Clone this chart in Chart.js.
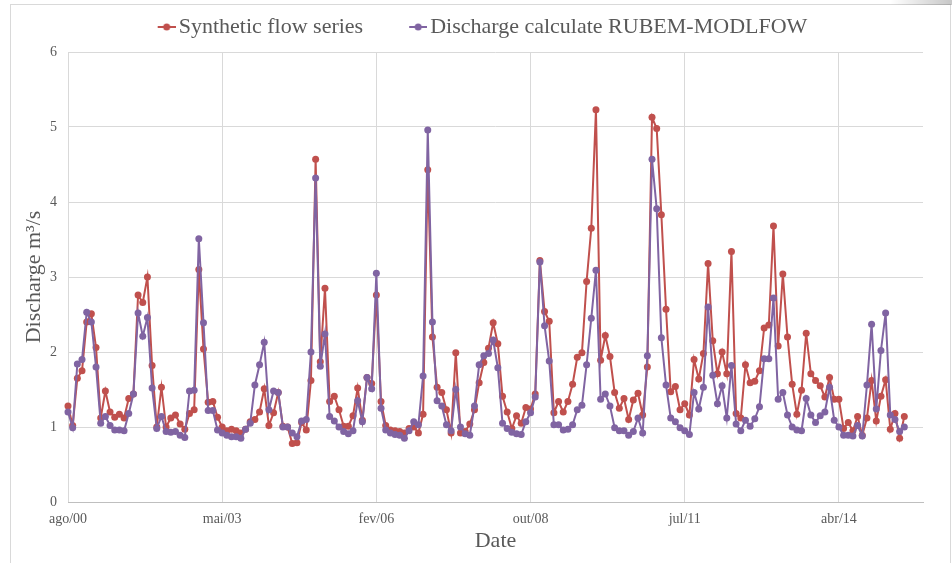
<!DOCTYPE html>
<html>
<head>
<meta charset="utf-8">
<title>Discharge</title>
<script src="https://cdn.jsdelivr.net/npm/chart.js@4.4.1/dist/chart.umd.min.js"></script>
<style>
    html, body { margin: 0; padding: 0; background: #fff; overflow: hidden; }
    #wrap { position: relative; width: 952px; height: 563px; }
    #frame { position: absolute; left: 10px; top: 4px; width: 939px; height: 700px; border: 1px solid #d9d9d9; }
    #shade { position: absolute; left: 890px; top: 0; width: 62px; height: 5px;
             background: linear-gradient(to right, rgba(0,0,0,0), rgba(0,0,0,0.22)); }
    #flowChart { position: absolute; left: 0; top: 0; }
</style>
</head>
<body>
<div id="wrap">
    <div id="frame"></div>
    <div id="shade"></div>
    <canvas id="flowChart" width="952" height="563"></canvas>
</div>
<script>
// monthly values, ago/00 .. jul/15
const syntheticFlow = [
    1.28, 1.02, 1.65, 1.75, 2.40, 2.51, 2.06, 1.12, 1.48, 1.20,
    1.13, 1.17, 1.12, 1.38, 1.44, 2.76, 2.66, 3.00, 1.82, 1.00,
    1.53, 1.00, 1.12, 1.16, 1.04, 0.97, 1.18, 1.23, 3.10, 2.04,
    1.33, 1.34, 1.13, 1.00, 0.95, 0.97, 0.95, 0.92, 0.97, 1.07,
    1.10, 1.20, 1.51, 1.02, 1.19, 1.46, 1.01, 1.00, 0.78, 0.79,
    1.06, 0.96, 1.62, 4.57, 1.87, 2.85, 1.34, 1.41, 1.23, 1.01,
    1.01, 1.15, 1.52, 1.09, 1.66, 1.58, 2.76, 1.34, 1.02, 0.96,
    0.95, 0.94, 0.92, 0.98, 1.00, 0.92, 1.17, 4.43, 2.20, 1.53,
    1.46, 1.23, 0.92, 1.99, 0.92, 0.94, 1.04, 1.23, 1.59, 1.86,
    2.05, 2.39, 2.11, 1.41, 1.20, 0.98, 1.15, 1.05, 1.26, 1.24,
    1.44, 3.22, 2.54, 2.41, 1.19, 1.34, 1.20, 1.34, 1.57, 1.93,
    1.99, 2.94, 3.65, 5.23, 1.89, 2.22, 1.94, 1.46, 1.25, 1.38,
    1.10, 1.36, 1.45, 1.16, 1.80, 5.13, 4.98, 3.83, 2.57, 1.47,
    1.54, 1.23, 1.31, 1.16, 1.90, 1.64, 1.98, 3.18, 2.15, 1.71,
    2.00, 1.71, 3.34, 1.18, 1.12, 1.83, 1.59, 1.61, 1.75, 2.32,
    2.36, 3.68, 2.08, 3.04, 2.20, 1.57, 1.17, 1.49, 2.25, 1.71,
    1.62, 1.55, 1.40, 1.66, 1.37, 1.37, 0.98, 1.06, 0.95, 1.14,
    0.89, 1.12, 1.62, 1.08, 1.41, 1.63, 0.97, 1.18, 0.85, 1.14
];
const rubemDischarge = [
    1.20, 0.99, 1.84, 1.90, 2.53, 2.40, 1.80, 1.05, 1.14, 1.02,
    0.96, 0.96, 0.95, 1.18, 1.44, 2.52, 2.21, 2.46, 1.52, 0.98,
    1.14, 0.94, 0.93, 0.94, 0.89, 0.86, 1.48, 1.49, 3.51, 2.39,
    1.22, 1.22, 0.96, 0.92, 0.89, 0.87, 0.87, 0.85, 0.97, 1.05,
    1.56, 1.83, 2.13, 1.23, 1.48, 1.46, 1.00, 1.00, 0.92, 0.87,
    1.08, 1.10, 2.00, 4.32, 1.81, 2.24, 1.14, 1.08, 1.00, 0.94,
    0.91, 0.95, 1.35, 1.07, 1.66, 1.51, 3.05, 1.25, 0.96, 0.92,
    0.90, 0.89, 0.85, 0.95, 1.07, 1.03, 1.68, 4.96, 2.40, 1.35,
    1.28, 1.03, 0.95, 1.50, 1.00, 0.91, 0.89, 1.28, 1.83, 1.95,
    1.98, 2.16, 1.79, 1.05, 0.98, 0.93, 0.91, 0.90, 1.07, 1.19,
    1.40, 3.20, 2.35, 1.88, 1.03, 1.03, 0.96, 0.97, 1.03, 1.23,
    1.29, 1.83, 2.45, 3.09, 1.37, 1.44, 1.28, 0.99, 0.95, 0.95,
    0.89, 0.94, 1.12, 0.92, 1.95, 4.57, 3.91, 2.19, 1.56, 1.12,
    1.07, 0.99, 0.95, 0.90, 1.46, 1.24, 1.53, 2.60, 1.69, 1.31,
    1.55, 1.12, 1.82, 1.04, 0.95, 1.09, 1.01, 1.11, 1.27, 1.91,
    1.91, 2.72, 1.37, 1.46, 1.16, 1.00, 0.96, 0.95, 1.38, 1.16,
    1.06, 1.15, 1.20, 1.53, 1.09, 1.00, 0.89, 0.89, 0.88, 1.02,
    0.88, 1.56, 2.37, 1.24, 2.02, 2.52, 1.16, 1.10, 0.94, 1.00
];
const xTickLabels = ['ago/00', 'mai/03', 'fev/06', 'out/08', 'jul/11', 'abr/14'];
const yTickLabels = ['0', '1', '2', '3', '4', '5', '6'];
const seriesNames = ['Synthetic flow series', 'Discharge calculate RUBEM-MODLFOW'];

const MONTHS_PER_TICK = 33;
const RED = '#c0504d';
const PURPLE = '#8064a2';
const SERIF = "'Liberation Serif', 'Times New Roman', serif";
const GREY_TEXT = '#595959';

// line + dot marker for the legend (right part of a wider transparent image)
function legendMarker(color) {
    const c = document.createElement('canvas');
    c.width = 68; c.height = 12;
    const g = c.getContext('2d');
    g.strokeStyle = color;
    g.lineWidth = 2;
    g.beginPath(); g.moveTo(50, 6); g.lineTo(68, 6); g.stroke();
    g.fillStyle = color;
    g.beginPath(); g.arc(59, 6, 3.5, 0, Math.PI * 2); g.fill();
    return c;
}
const markers = [legendMarker(RED), legendMarker(PURPLE)];

const toPoints = arr => arr.map((v, i) => ({ x: i, y: v }));

const lineStyle = color => ({
    borderColor: color,
    backgroundColor: color,
    borderWidth: 2,
    pointRadius: 3.5,
    pointBorderWidth: 0,
    pointBackgroundColor: color,
    tension: 0,
    fill: false,
    clip: false
});

new Chart(document.getElementById('flowChart'), {
    type: 'line',
    data: {
        datasets: [
            { label: seriesNames[0], data: toPoints(syntheticFlow), order: 1, ...lineStyle(RED) },
            { label: seriesNames[1], data: toPoints(rubemDischarge), order: 0, ...lineStyle(PURPLE) }
        ]
    },
    options: {
        responsive: false,
        animation: false,
        layout: { padding: { top: 12, right: 29, bottom: 0, left: 0 } },
        plugins: {
            legend: {
                position: 'top',
                labels: {
                    usePointStyle: true,
                    pointStyleWidth: 52,
                    padding: 4,
                    color: GREY_TEXT,
                    font: { family: SERIF, size: 22 },
                    sort: (a, b) => a.datasetIndex - b.datasetIndex,
                    generateLabels(chart) {
                        return Chart.defaults.plugins.legend.labels.generateLabels(chart)
                            .map(item => ({ ...item, pointStyle: markers[item.datasetIndex] }));
                    }
                }
            },
            tooltip: { enabled: false }
        },
        scales: {
            x: {
                type: 'linear',
                min: 0,
                max: 183,
                ticks: {
                    stepSize: MONTHS_PER_TICK,
                    includeBounds: false,
                    autoSkip: false,
                    maxRotation: 0,
                    padding: 9,
                    color: GREY_TEXT,
                    font: { family: SERIF, size: 14 },
                    callback: v => xTickLabels[Math.round(v / MONTHS_PER_TICK)] ?? ''
                },
                grid: { color: '#d9d9d9', drawTicks: false },
                border: { color: '#bfbfbf' },
                title: {
                    display: true, text: 'Date', color: GREY_TEXT,
                    font: { family: SERIF, size: 22 },
                    padding: { top: 0, bottom: 9 }
                },
                afterFit: s => { s.height = 61; }
            },
            y: {
                min: 0,
                max: 6,
                ticks: {
                    stepSize: 1,
                    padding: 11,
                    color: GREY_TEXT,
                    font: { family: SERIF, size: 14 },
                    callback: v => yTickLabels[v] ?? ''
                },
                grid: { color: '#d9d9d9', drawTicks: false },
                border: { display: false },
                title: {
                    display: true, text: 'Discharge m³/s', color: GREY_TEXT,
                    font: { family: SERIF, size: 22 },
                    padding: { top: 21, bottom: 0 }
                },
                afterFit: s => { s.width = 68; }
            }
        }
    },
    plugins: [{
        // a little more room between legend and plot
        id: 'legendGap',
        beforeInit(chart) {
            const fit = chart.legend.fit;
            chart.legend.fit = function () { fit.call(this); this.height += 4; };
        }
    }]
});
</script>
</body>
</html>
